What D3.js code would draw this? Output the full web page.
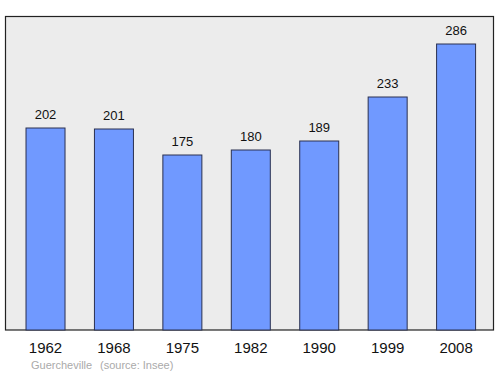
<!DOCTYPE html>
<html>
<head>
<meta charset="utf-8">
<script src="https://cdn.jsdelivr.net/npm/d3@7"></script>
<style>
  body { margin: 0; background: #fff; }
  text { font-family: "Liberation Sans", Arial, sans-serif; }
</style>
</head>
<body>
<div id="chart"></div>
<script>
const years = ["1962", "1968", "1975", "1982", "1990", "1999", "2008"];
const population = [202, 201, 175, 180, 189, 233, 286];

const width = 500, height = 374;
const svg = d3.select("#chart").append("svg").attr("width", width).attr("height", height);

// background panel
svg.append("rect")
  .attr("x", 5.5).attr("y", 16.5)
  .attr("width", 488).attr("height", 313.5)
  .attr("fill", "#ececec")
  .attr("stroke", "#222")
  .attr("stroke-width", 1.2);

const x = d3.scaleBand().domain(years).range([11.3, 490.3]).paddingInner(0.43).paddingOuter(0.215);
const y = d3.scaleLinear().domain([0, 313]).range([330, 17]);

const data = years.map((yr, i) => ({ year: yr, value: population[i] }));

svg.selectAll(".bar")
  .data(data)
  .enter()
  .append("rect")
  .attr("class", "bar")
  .attr("x", d => x(d.year))
  .attr("y", d => y(d.value))
  .attr("width", x.bandwidth())
  .attr("height", d => y(0) - y(d.value))
  .attr("fill", "#7099ff")
  .attr("stroke", "#2a3050")
  .attr("stroke-width", 1);

svg.selectAll(".val")
  .data(data)
  .enter()
  .append("text")
  .attr("class", "val")
  .attr("x", d => x(d.year) + x.bandwidth() / 2)
  .attr("y", d => y(d.value) - 9)
  .attr("text-anchor", "middle")
  .attr("font-size", "13px")
  .attr("fill", "#111")
  .text(d => d.value);

svg.selectAll(".yr")
  .data(data)
  .enter()
  .append("text")
  .attr("class", "yr")
  .attr("x", d => x(d.year) + x.bandwidth() / 2)
  .attr("y", 353)
  .attr("text-anchor", "middle")
  .attr("font-size", "15px")
  .attr("fill", "#111")
  .text(d => d.year);

svg.append("text")
  .attr("x", 31).attr("y", 369)
  .attr("font-size", "11px")
  .attr("fill", "#aaa")
  .text("Guercheville");

svg.append("text")
  .attr("x", 100).attr("y", 369)
  .attr("font-size", "11px")
  .attr("fill", "#aaa")
  .text("(source: Insee)");
</script>
</body>
</html>
